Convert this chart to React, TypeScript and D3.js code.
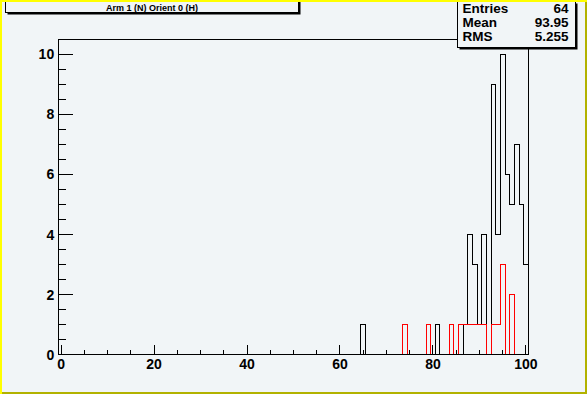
import * as d3 from 'd3';
import { useEffect, useRef } from 'react';

// histogram: 101 bins of width 1 centred on 0..100
const X_MIN = -0.5;
const X_MAX = 100.5;
const Y_MAX = 10.5;

const blackBins = [65, 81, 87, 88, 89, 90, 91, 93, 94, 95, 96, 97, 98, 99, 100];
const blackCounts = [1, 1, 1, 4, 3, 1, 4, 9, 4, 10, 6, 5, 7, 5, 3];

const redBins = [74, 79, 84, 86, 87, 88, 89, 90, 91, 93, 94, 95, 97];
const redCounts = [1, 1, 1, 1, 1, 1, 1, 1, 1, 1, 1, 3, 2];

const xTickLabels = [0, 20, 40, 60, 80, 100];
const yTickLabels = [0, 2, 4, 6, 8, 10];

const statsLabels = ['Entries', 'Mean', 'RMS'];
const statsValues = ['64', '93.95', '5.255'];

const TITLE = 'Arm 1 (N) Orient 0 (H)';

const WIDTH = 587;
const HEIGHT = 394;
const FONT = "'Liberation Sans', Arial, Helvetica, sans-serif";
const CANVAS_FILL = '#f1f5f7';

export default function App() {
  const svgRef = useRef<SVGSVGElement | null>(null);

  useEffect(() => {
    if (!svgRef.current) return;
    const svg = d3.select(svgRef.current);
    svg.selectAll('*').remove();

    const left = WIDTH * 0.1;
    const right = WIDTH * 0.9;
    const top = HEIGHT * 0.1;
    const bottom = HEIGHT * 0.9;

    const x = d3.scaleLinear().domain([X_MIN, X_MAX]).range([left, right]);
    const y = d3.scaleLinear().domain([0, Y_MAX]).range([bottom, top]);

    // canvas with bevelled yellow border
    svg.append('rect').attr('width', WIDTH).attr('height', HEIGHT).attr('fill', CANVAS_FILL);
    svg
      .append('path')
      .attr('d', `M${WIDTH},${HEIGHT}H0V${HEIGHT - 2}H${WIDTH - 2}V0H${WIDTH}Z`)
      .attr('fill', '#b2b200');

    const toOutline = (bins: number[], counts: number[]) => {
      const full = new Array(101).fill(0);
      bins.forEach((b, i) => {
        full[b] = counts[i];
      });
      const pts: [number, number][] = [[X_MIN, 0]];
      full.forEach((c, k) => {
        pts.push([k - 0.5, c]);
        pts.push([k + 0.5, c]);
      });
      pts.push([X_MAX, 0]);
      return pts;
    };

    const line = d3
      .line<[number, number]>()
      .x((p) => x(p[0]))
      .y((p) => y(p[1]));

    svg
      .append('path')
      .attr('d', line(toOutline(blackBins, blackCounts)))
      .attr('fill', 'none')
      .attr('stroke', '#000')
      .attr('stroke-width', 1)
      .attr('shape-rendering', 'crispEdges');

    svg
      .append('path')
      .attr('d', line(toOutline(redBins, redCounts)))
      .attr('fill', 'none')
      .attr('stroke', '#ff0000')
      .attr('stroke-width', 1)
      .attr('shape-rendering', 'crispEdges');

    // frame
    svg
      .append('rect')
      .attr('x', left)
      .attr('y', top)
      .attr('width', right - left)
      .attr('height', bottom - top)
      .attr('fill', 'none')
      .attr('stroke', '#000')
      .attr('shape-rendering', 'crispEdges');

    const ticks = svg.append('g').attr('stroke', '#000').attr('shape-rendering', 'crispEdges');

    // x ticks: minor every 5, major every 20
    d3.range(0, 101, 5).forEach((v) => {
      const len = v % 20 === 0 ? 9.5 : 4.7;
      ticks
        .append('line')
        .attr('x1', x(v))
        .attr('x2', x(v))
        .attr('y1', bottom)
        .attr('y2', bottom - len);
    });

    // y ticks: minor every 0.5, major every 2
    d3.range(0, 10.01, 0.5).forEach((v) => {
      const len = v % 2 === 0 ? 14 : 7;
      ticks
        .append('line')
        .attr('x1', left)
        .attr('x2', left + len)
        .attr('y1', y(v))
        .attr('y2', y(v));
    });

    svg
      .append('g')
      .selectAll('text')
      .data(xTickLabels)
      .join('text')
      .attr('x', (d) => x(d))
      .attr('y', 369)
      .attr('text-anchor', 'middle')
      .attr('font-family', FONT)
      .attr('font-weight', 'bold')
      .attr('font-size', 14)
      .text((d) => d);

    svg
      .append('g')
      .selectAll('text')
      .data(yTickLabels)
      .join('text')
      .attr('x', left - 4.5)
      .attr('y', (d) => y(d) + 5)
      .attr('text-anchor', 'end')
      .attr('font-family', FONT)
      .attr('font-weight', 'bold')
      .attr('font-size', 14)
      .text((d) => d);

    // stats box
    const sx1 = 457.5;
    const sx2 = 575.5;
    const sy1 = 1.5;
    const sy2 = 47.5;
    svg
      .append('rect')
      .attr('x', sx1 + 2)
      .attr('y', sy1 + 2)
      .attr('width', sx2 - sx1)
      .attr('height', sy2 - sy1)
      .attr('fill', '#000');
    svg
      .append('rect')
      .attr('x', sx1)
      .attr('y', sy1)
      .attr('width', sx2 - sx1)
      .attr('height', sy2 - sy1)
      .attr('fill', CANVAS_FILL)
      .attr('stroke', '#000');

    statsLabels.forEach((label, i) => {
      const baseline = 12.5 + i * 14;
      svg
        .append('text')
        .attr('x', sx1 + 5)
        .attr('y', baseline)
        .attr('font-family', FONT)
        .attr('font-weight', 'bold')
        .attr('font-size', 13.5)
        .text(label);
      svg
        .append('text')
        .attr('x', sx2 - 7)
        .attr('y', baseline)
        .attr('text-anchor', 'end')
        .attr('font-family', FONT)
        .attr('font-weight', 'bold')
        .attr('font-size', 13.5)
        .text(statsValues[i]);
    });

    // title box
    const tx1 = 5.5;
    const tx2 = 298.5;
    const ty1 = -1.5;
    const ty2 = 12.5;
    svg
      .append('rect')
      .attr('x', tx1 + 2)
      .attr('y', ty1 + 2)
      .attr('width', tx2 - tx1)
      .attr('height', ty2 - ty1)
      .attr('fill', '#000');
    svg
      .append('rect')
      .attr('x', tx1)
      .attr('y', ty1)
      .attr('width', tx2 - tx1)
      .attr('height', ty2 - ty1)
      .attr('fill', CANVAS_FILL)
      .attr('stroke', '#000');
    svg
      .append('text')
      .attr('x', (tx1 + tx2) / 2)
      .attr('y', 11.3)
      .attr('text-anchor', 'middle')
      .attr('font-family', FONT)
      .attr('font-weight', 'bold')
      .attr('font-size', 9)
      .text(TITLE);

    // yellow border drawn last so it sits over the boxes
    svg.append('rect').attr('x', 0).attr('y', 0).attr('width', WIDTH).attr('height', 2).attr('fill', '#ffff00');
    svg.append('rect').attr('x', 0).attr('y', 0).attr('width', 2).attr('height', HEIGHT).attr('fill', '#ffff00');
    svg
      .append('rect')
      .attr('x', WIDTH - 2)
      .attr('y', 2)
      .attr('width', 2)
      .attr('height', HEIGHT - 2)
      .attr('fill', '#b2b200');
  }, []);

  return (
    <svg
      ref={svgRef}
      width={WIDTH}
      height={HEIGHT}
      style={{ position: 'absolute', left: 0, top: 0, display: 'block' }}
    />
  );
}
